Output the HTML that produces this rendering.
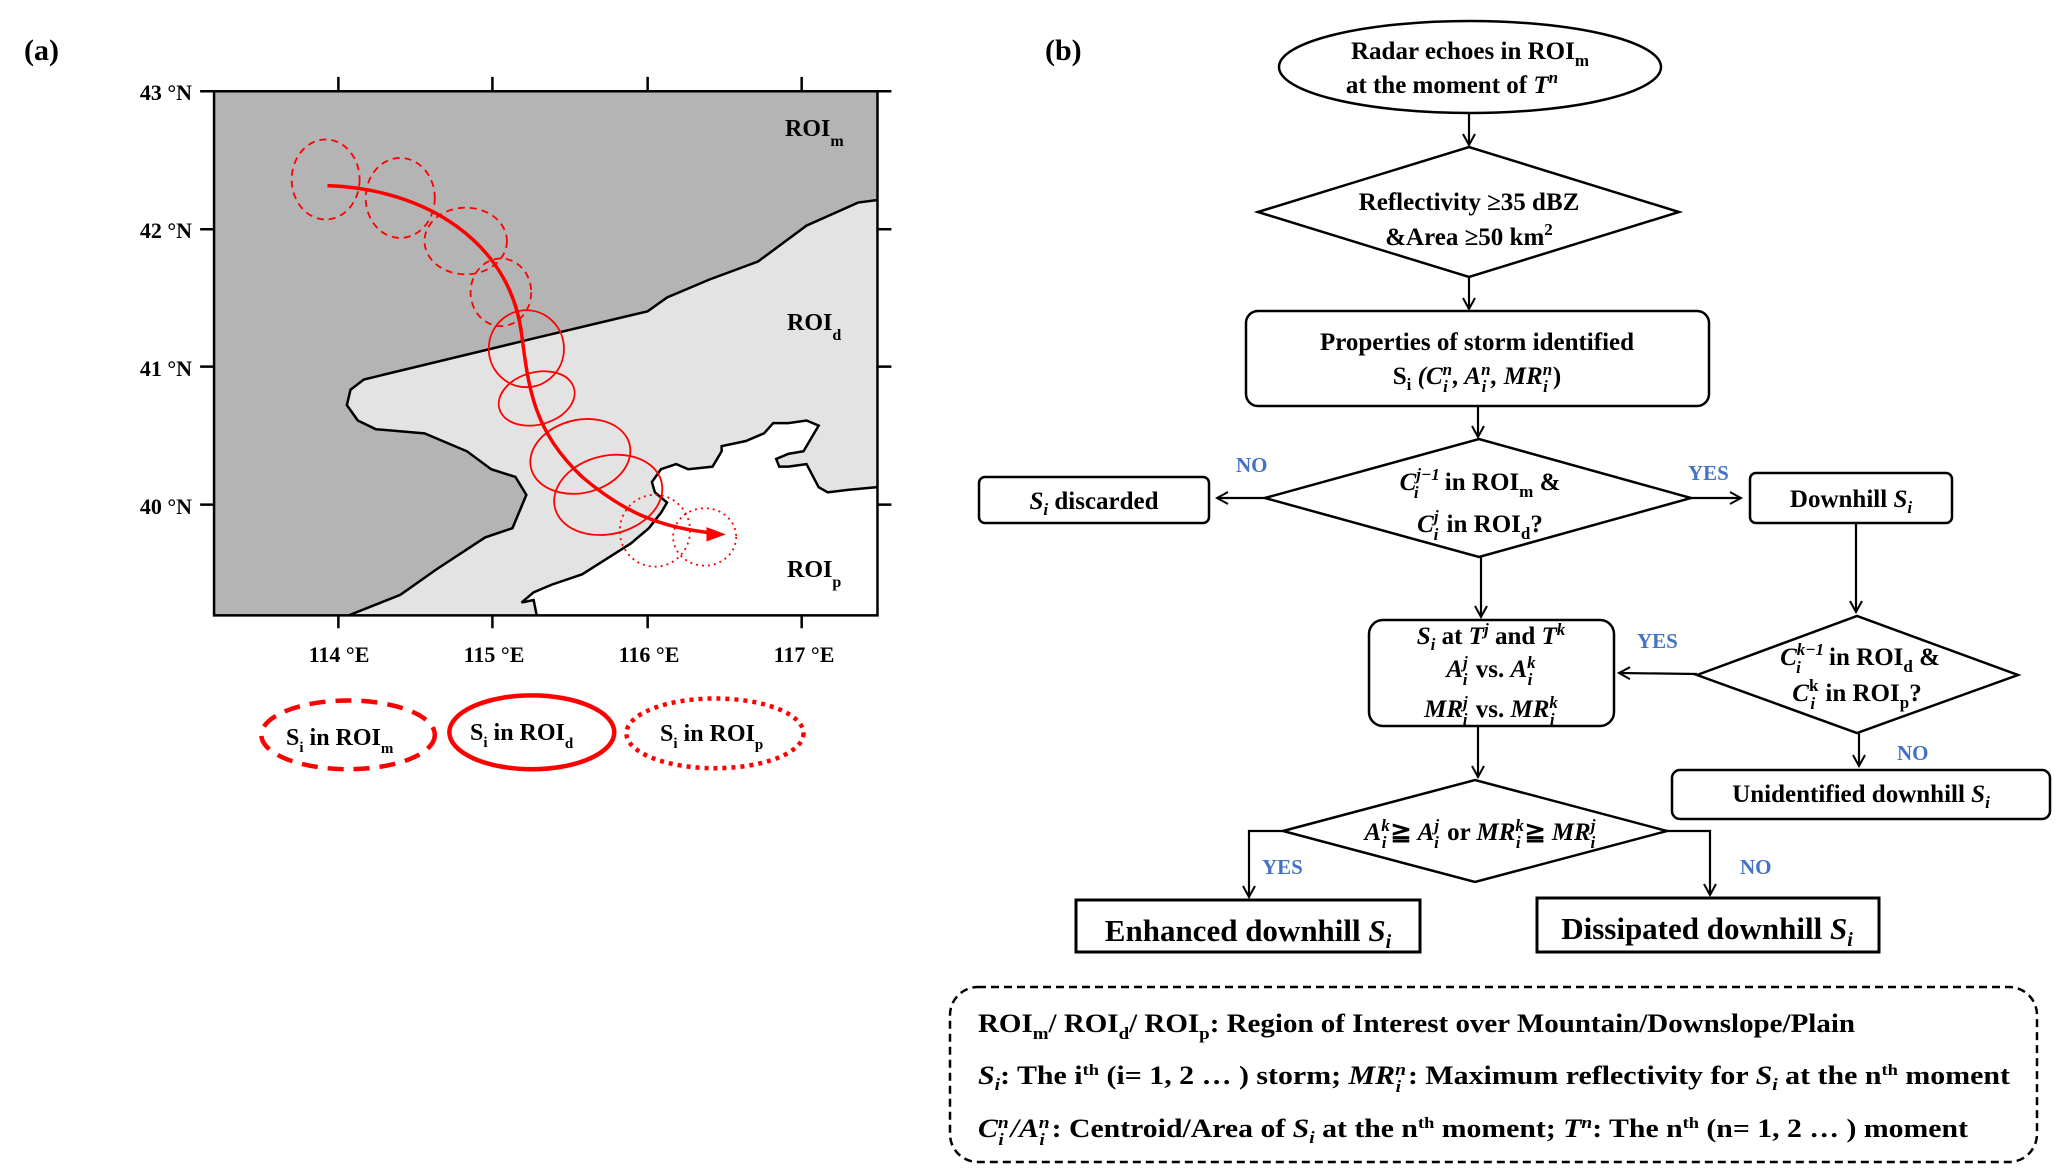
<!DOCTYPE html>
<html><head><meta charset="utf-8"><style>
html,body{margin:0;padding:0;background:#fff;}
body{width:2067px;height:1176px;position:relative;overflow:hidden;}
svg{position:absolute;left:0;top:0;}
text{font-family:"Liberation Serif",serif;font-weight:bold;fill:#000;}
.b{fill:#4472c4;}
</style></head><body>
<svg width="946" height="800" viewBox="0 0 1560 1560" preserveAspectRatio="none">
<rect x="353" y="178" width="1094" height="1022" fill="#b4b4b4"/>
<path d="M1447,390 L1415,395 L1330,440 L1250,510 L1170,545 L1100,580 L1068,607 L880,660 L600,740 L578,760 L572,790 L590,820 L620,837 L700,845 L770,880 L810,915 L850,930 L868,965 L845,1030 L800,1048 L720,1110 L660,1160 L575,1200 L1447,1200 Z" fill="#e3e3e3"/>
<path d="M885,1200 L880,1170 L860,1175 L880,1155 L910,1140 L960,1120 L1000,1090 L1040,1060 L1070,1030 L1090,1000 L1100,980 L1080,960 L1075,940 L1090,915 L1115,905 L1135,915 L1175,910 L1190,880 L1190,870 L1230,860 L1260,845 L1275,825 L1300,825 L1330,820 L1350,830 L1340,850 L1325,880 L1300,885 L1280,895 L1285,910 L1300,910 L1330,905 L1350,950 L1365,960 L1400,955 L1447,950 L1447,1200 Z" fill="#fff"/>
<g fill="none" stroke="#000" stroke-width="2.5">
<path vector-effect="non-scaling-stroke" d="M1447,390 L1415,395 L1330,440 L1250,510 L1170,545 L1100,580 L1068,607 L880,660 L600,740 L578,760 L572,790 L590,820 L620,837 L700,845 L770,880 L810,915 L850,930 L868,965 L845,1030 L800,1048 L720,1110 L660,1160 L575,1200"/>
<path vector-effect="non-scaling-stroke" d="M885,1200 L880,1170 L860,1175 L880,1155 L910,1140 L960,1120 L1000,1090 L1040,1060 L1070,1030 L1090,1000 L1100,980 L1080,960 L1075,940 L1090,915 L1115,905 L1135,915 L1175,910 L1190,880 L1190,870 L1230,860 L1260,845 L1275,825 L1300,825 L1330,820 L1350,830 L1340,850 L1325,880 L1300,885 L1280,895 L1285,910 L1300,910 L1330,905 L1350,950 L1365,960 L1400,955 L1447,950"/>
<rect vector-effect="non-scaling-stroke" x="353" y="178" width="1094" height="1022"/>
<path vector-effect="non-scaling-stroke" d="M353,178 H1470 M558,150 V178 M812,150 V178 M1068,150 V178 M1322,150 V178 M558,1200 V1225 M812,1200 V1225 M1068,1200 V1225 M1322,1200 V1225 M330,178 H353 M330,447 H353 M330,715 H353 M330,984 H353 M1447,447 H1470 M1447,715 H1470 M1447,984 H1470"/>
</g>
<g fill="none" stroke="#f00" stroke-width="1.8">
<g stroke-dasharray="7,5">
<ellipse vector-effect="non-scaling-stroke" cx="537" cy="350" rx="56" ry="78"/>
<ellipse vector-effect="non-scaling-stroke" cx="660" cy="386" rx="57" ry="78"/>
<ellipse vector-effect="non-scaling-stroke" cx="768" cy="470" rx="68" ry="65"/>
<ellipse vector-effect="non-scaling-stroke" cx="826" cy="570" rx="50" ry="66"/>
</g>
<ellipse vector-effect="non-scaling-stroke" cx="868" cy="680" rx="62" ry="75"/>
<ellipse vector-effect="non-scaling-stroke" transform="rotate(-25 885 777)" cx="885" cy="777" rx="65" ry="50"/>
<ellipse vector-effect="non-scaling-stroke" transform="rotate(-25 957 890)" cx="957" cy="890" rx="85" ry="70"/>
<ellipse vector-effect="non-scaling-stroke" transform="rotate(-25 1003 965)" cx="1003" cy="965" rx="92" ry="75"/>
<g stroke-dasharray="2,4">
<ellipse vector-effect="non-scaling-stroke" cx="1080" cy="1035" rx="58" ry="70"/>
<ellipse vector-effect="non-scaling-stroke" cx="1162" cy="1047" rx="52" ry="56"/>
</g>
<path vector-effect="non-scaling-stroke" stroke-width="3.5" d="M540,362 C700,368 840,470 860,650 C872,760 880,840 960,930 C1030,1000 1090,1030 1180,1040"/>
<ellipse vector-effect="non-scaling-stroke" stroke-width="4.5" stroke-dasharray="16,10" cx="574" cy="1433" rx="143" ry="67"/>
<ellipse vector-effect="non-scaling-stroke" stroke-width="4.5" cx="877" cy="1428" rx="136" ry="72"/>
<ellipse vector-effect="non-scaling-stroke" stroke-width="4.5" stroke-dasharray="4,5" cx="1179" cy="1430" rx="146" ry="68"/>
</g>
<path d="M1165,1028 L1197,1042 L1165,1056 Z" fill="#f00"/>
</svg>

<svg width="2067" height="1176" viewBox="0 0 2067 1176">
<defs><marker id="a" markerWidth="14" markerHeight="14" refX="12" refY="7" orient="auto" markerUnits="userSpaceOnUse"><path d="M1,1 L12,7 L1,13" fill="none" stroke="#000" stroke-width="2"/></marker></defs>
<text x="24" y="60" font-size="30">(a)</text>
<g font-size="22">
<text x="192" y="100" text-anchor="end">43 °N</text>
<text x="192" y="238" text-anchor="end">42 °N</text>
<text x="192" y="376" text-anchor="end">41 °N</text>
<text x="192" y="514" text-anchor="end">40 °N</text>
<text x="339" y="662" text-anchor="middle">114 °E</text>
<text x="494" y="662" text-anchor="middle">115 °E</text>
<text x="649" y="662" text-anchor="middle">116 °E</text>
<text x="804" y="662" text-anchor="middle">117 °E</text>
</g>
<g font-size="24">
<text x="785" y="136">ROI<tspan font-size="16" dy="10">m</tspan></text>
<text x="787" y="330">ROI<tspan font-size="16" dy="10">d</tspan></text>
<text x="787" y="577">ROI<tspan font-size="16" dy="10">p</tspan></text>
<text x="286" y="745">S<tspan font-size="15" dy="7">i</tspan><tspan dy="-7"> in ROI</tspan><tspan font-size="15" dy="8">m</tspan></text>
<text x="470" y="740">S<tspan font-size="15" dy="7">i</tspan><tspan dy="-7"> in ROI</tspan><tspan font-size="15" dy="8">d</tspan></text>
<text x="660" y="741">S<tspan font-size="15" dy="7">i</tspan><tspan dy="-7"> in ROI</tspan><tspan font-size="15" dy="8">p</tspan></text>
</g>

<text x="1045" y="60" font-size="30">(b)</text>
<g fill="#fff" stroke="#000" stroke-width="2.5">
<ellipse cx="1470" cy="67" rx="191" ry="46"/>
<polygon points="1258,212 1469,147 1679,212 1469,277"/>
<rect x="1246" y="311" width="463" height="95" rx="12"/>
<polygon points="1265,498 1479,439 1691,498 1479,557"/>
<rect x="979" y="477" width="230" height="46" rx="6"/>
<rect x="1750" y="473" width="202" height="50" rx="6"/>
<polygon points="1697,675 1857,616 2018,675 1857,733"/>
<rect x="1369" y="620" width="245" height="106" rx="14"/>
<rect x="1672" y="770" width="378" height="49" rx="8"/>
<polygon points="1283,831 1475,780 1667,831 1475,882"/>
<rect x="1076" y="900" width="344" height="52" stroke-width="3"/>
<rect x="1537" y="898" width="342" height="54" stroke-width="3"/>
<rect x="950" y="987" width="1087" height="175" rx="28" stroke-dasharray="8,5" fill="none"/>
</g>
<g stroke="#000" stroke-width="2.2" fill="none" marker-end="url(#a)">
<path d="M1469,113 V145"/>
<path d="M1469,277 V309"/>
<path d="M1478,406 V437"/>
<path d="M1265,498 H1217"/>
<path d="M1691,498 H1741"/>
<path d="M1856,523 V612"/>
<path d="M1481,557 V617"/>
<path d="M1697,674 L1619,673"/>
<path d="M1859,733 V766"/>
<path d="M1478,726 V777"/>
<path d="M1283,831 H1249 V897"/>
<path d="M1667,831 H1710 V895"/>
</g>
<g font-size="25" text-anchor="middle">
<text x="1470" y="59">Radar echoes in ROI<tspan font-size="17" dy="7">m</tspan></text>
<text x="1452" y="93">at the moment of <tspan font-style="italic">T</tspan><tspan font-size="17" font-style="italic" dy="-10">n</tspan></text>
<text x="1469" y="210">Reflectivity ≥35 dBZ</text>
<text x="1469" y="245">&amp;Area ≥50 km<tspan font-size="17" dy="-10">2</tspan></text>
<text x="1477" y="350">Properties of storm identified</text>
<text x="1477" y="384">S<tspan font-size="17" dy="6">i</tspan><tspan dy="-6" font-style="italic"> (C</tspan><tspan font-size="17" font-style="italic" dy="-9">n</tspan><tspan font-size="17" font-style="italic" dx="-9" dy="17">i</tspan><tspan font-style="italic" dx="5" dy="-8">, A</tspan><tspan font-size="17" font-style="italic" dy="-9">n</tspan><tspan font-size="17" font-style="italic" dx="-9" dy="17">i</tspan><tspan font-style="italic" dx="5" dy="-8">, MR</tspan><tspan font-size="17" font-style="italic" dy="-9">n</tspan><tspan font-size="17" font-style="italic" dx="-9" dy="17">i</tspan><tspan dx="5" dy="-8">)</tspan></text>
<text x="1480" y="490"><tspan font-style="italic">C</tspan><tspan font-size="17" font-style="italic" dy="-10">j−1</tspan><tspan font-size="17" font-style="italic" dx="-26" dy="18">i</tspan><tspan dx="20" dy="-8"> in ROI</tspan><tspan font-size="17" dy="7">m</tspan><tspan dy="-7"> &amp;</tspan></text>
<text x="1480" y="532"><tspan font-style="italic">C</tspan><tspan font-size="17" font-style="italic" dy="-10">j</tspan><tspan font-size="17" font-style="italic" dx="-5" dy="18">i</tspan><tspan dx="2" dy="-8"> in ROI</tspan><tspan font-size="17" dy="7">d</tspan><tspan dy="-7">?</tspan></text>
<text x="1094" y="509"><tspan font-style="italic">S<tspan font-size="17" dy="6">i</tspan></tspan><tspan dy="-6"> discarded</tspan></text>
<text x="1851" y="507">Downhill <tspan font-style="italic">S</tspan><tspan font-size="17" font-style="italic" dy="6">i</tspan></text>
<text x="1860" y="665"><tspan font-style="italic">C</tspan><tspan font-size="17" font-style="italic" dy="-10">k−1</tspan><tspan font-size="17" font-style="italic" dx="-28" dy="18">i</tspan><tspan dx="22" dy="-8"> in ROI</tspan><tspan font-size="17" dy="7">d</tspan><tspan dy="-7"> &amp;</tspan></text>
<text x="1857" y="701"><tspan font-style="italic">C</tspan><tspan font-size="17" dy="-10">k</tspan><tspan font-size="17" font-style="italic" dx="-8" dy="18">i</tspan><tspan dx="4" dy="-8"> in ROI</tspan><tspan font-size="17" dy="7">p</tspan><tspan dy="-7">?</tspan></text>
<text x="1491" y="644" font-style="italic">S<tspan font-size="17" dy="6">i</tspan><tspan dy="-6" font-style="normal"> at </tspan>T<tspan font-size="17" dy="-9">j</tspan><tspan dy="9" font-style="normal"> and </tspan>T<tspan font-size="17" dy="-9">k</tspan></text>
<text x="1491" y="677" font-style="italic">A<tspan font-size="17" dy="-9">j</tspan><tspan font-size="17" dx="-5" dy="17">i</tspan><tspan dx="2" dy="-8" font-style="normal">  vs. </tspan>A<tspan font-size="17" dy="-9">k</tspan><tspan font-size="17" dx="-8" dy="17">i</tspan></text>
<text x="1491" y="717" font-style="italic">MR<tspan font-size="17" dy="-9">j</tspan><tspan font-size="17" dx="-5" dy="17">i</tspan><tspan dx="2" dy="-8" font-style="normal">  vs. </tspan>MR<tspan font-size="17" dy="-9">k</tspan><tspan font-size="17" dx="-8" dy="17">i</tspan></text>
<text x="1861" y="802">Unidentified downhill <tspan font-style="italic">S</tspan><tspan font-size="17" font-style="italic" dy="6">i</tspan></text>
<text x="1480" y="840" font-style="italic">A<tspan font-size="17" dy="-9">k</tspan><tspan font-size="17" dx="-8" dy="17">i</tspan><tspan dx="4" dy="-8" font-style="normal">≧ </tspan>A<tspan font-size="17" dy="-9">j</tspan><tspan font-size="17" dx="-5" dy="17">i</tspan><tspan dx="2" dy="-8" font-style="normal"> or </tspan>MR<tspan font-size="17" dy="-9">k</tspan><tspan font-size="17" dx="-8" dy="17">i</tspan><tspan dx="4" dy="-8" font-style="normal">≧ </tspan>MR<tspan font-size="17" dy="-9">j</tspan><tspan font-size="17" dx="-5" dy="17">i</tspan></text>
</g>
<g font-size="31" text-anchor="middle">
<text x="1248" y="941">Enhanced downhill <tspan font-style="italic">S</tspan><tspan font-size="20" font-style="italic" dy="7">i</tspan></text>
<text x="1707" y="939">Dissipated downhill <tspan font-style="italic">S</tspan><tspan font-size="20" font-style="italic" dy="7">i</tspan></text>
</g>
<g font-size="21">
<text class="b" x="1236" y="472">NO</text>
<text class="b" x="1688" y="480">YES</text>
<text class="b" x="1637" y="648">YES</text>
<text class="b" x="1897" y="760">NO</text>
<text class="b" x="1262" y="874">YES</text>
<text class="b" x="1740" y="874">NO</text>
</g>
<g font-size="26">
<text x="978" y="1032" textLength="877" lengthAdjust="spacingAndGlyphs">ROI<tspan font-size="17" dy="7">m</tspan><tspan dy="-7">/ ROI</tspan><tspan font-size="17" dy="7">d</tspan><tspan dy="-7">/ ROI</tspan><tspan font-size="17" dy="7">p</tspan><tspan dy="-7">: Region of Interest over Mountain/Downslope/Plain</tspan></text>
<text x="978" y="1084" textLength="1032" lengthAdjust="spacingAndGlyphs"><tspan font-style="italic">S</tspan><tspan font-size="17" font-style="italic" dy="6">i</tspan><tspan dy="-6">:  The i</tspan><tspan font-size="16" dy="-9">th</tspan><tspan dy="9"> (i= 1, 2 … ) storm; </tspan><tspan font-style="italic">MR</tspan><tspan font-size="17" font-style="italic" dy="-9">n</tspan><tspan font-size="17" font-style="italic" dx="-9" dy="17">i</tspan><tspan dx="6" dy="-8">: Maximum reflectivity for </tspan><tspan font-style="italic">S</tspan><tspan font-size="17" font-style="italic" dy="6">i</tspan><tspan dy="-6"> at the n</tspan><tspan font-size="16" dy="-9">th</tspan><tspan dy="9"> moment</tspan></text>
<text x="978" y="1137" textLength="990" lengthAdjust="spacingAndGlyphs"><tspan font-style="italic">C</tspan><tspan font-size="17" font-style="italic" dy="-9">n</tspan><tspan font-size="17" font-style="italic" dx="-9" dy="17">i</tspan><tspan dx="6" dy="-8" font-style="italic">/A</tspan><tspan font-size="17" font-style="italic" dy="-9">n</tspan><tspan font-size="17" font-style="italic" dx="-9" dy="17">i</tspan><tspan dx="6" dy="-8">: Centroid/Area of </tspan><tspan font-style="italic">S</tspan><tspan font-size="17" font-style="italic" dy="6">i</tspan><tspan dy="-6"> at the n</tspan><tspan font-size="16" dy="-9">th</tspan><tspan dy="9"> moment; </tspan><tspan font-style="italic">T</tspan><tspan font-size="17" font-style="italic" dy="-9">n</tspan><tspan dy="9">: The n</tspan><tspan font-size="16" dy="-9">th</tspan><tspan dy="9"> (n= 1, 2 … ) moment</tspan></text>
</g>
</svg>
</body></html>
